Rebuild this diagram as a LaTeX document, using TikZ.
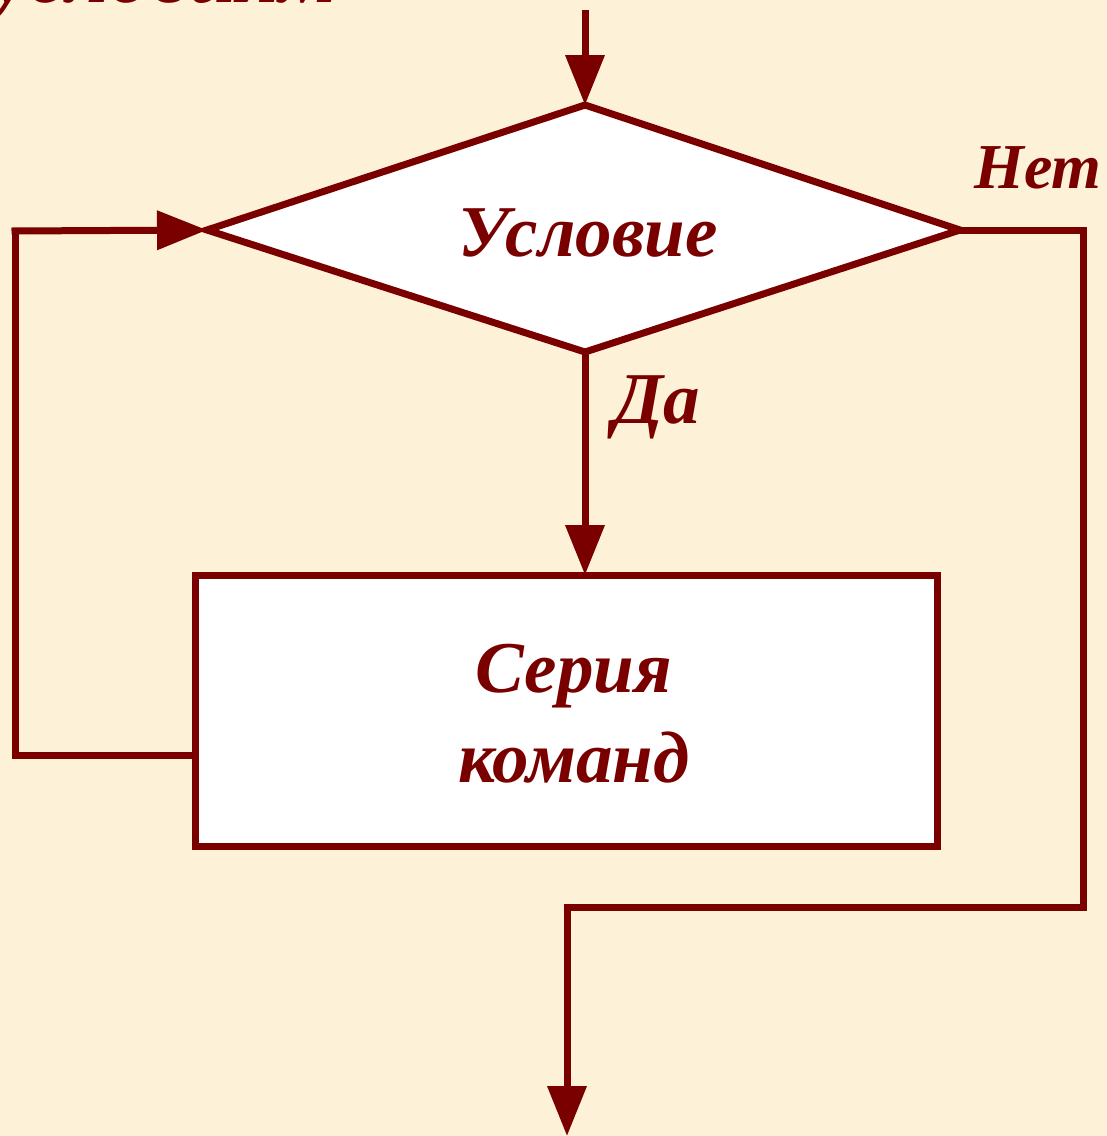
\documentclass[tikz,border=0pt]{standalone}
\usepackage{fontspec}
\setmainfont{Liberation Serif}
\usetikzlibrary{arrows.meta}
\definecolor{paper}{RGB}{253,241,216}
\definecolor{maroon}{RGB}{122,0,0}
\begin{document}
\begin{tikzpicture}[x=1pt,y=-1pt,
  flow/.style={draw=maroon,line width=7pt},
  arr/.style={flow,-{Triangle[length=50pt,width=38pt]}},
  lbl/.style={text=maroon,font=\fontsize{73}{78}\selectfont\bfseries\itshape,inner sep=0pt},
  shapeline/.style={draw=maroon,line width=7pt,fill=white,line join=miter}]
  % canvas
  \fill[paper] (0,0) rectangle (1107,1136);
  \useasboundingbox (0,0) rectangle (1107,1136);

  % heading text running off the top edge
  \begin{scope}
    \clip (0,0) rectangle (1107,1136);
    \node[lbl,anchor=base west,font=\fontsize{84}{90}\selectfont\bfseries\itshape] (head) at (-8,2) {условиям};
  \end{scope}

  % decision diamond
  \coordinate (dt) at (585,105);
  \coordinate (dl) at (207,230);
  \coordinate (dr) at (960,230);
  \coordinate (db) at (585,352);
  \draw[shapeline] (dt) -- (dr) -- (db) -- (dl) -- cycle;
  \node[lbl] (cond) at (588,233) {Условие};

  % body box
  \coordinate (bnw) at (195,575);
  \coordinate (bse) at (937,846);
  \draw[shapeline] (bnw) rectangle (bse);
  \node[lbl,align=center,font=\fontsize{73}{90}\selectfont\bfseries\itshape] (body) at (574,714) {Серия\\команд};

  % entry arrow
  \coordinate (in) at (585,10);
  \draw[arr] (in) -- (dt);

  % "yes" branch
  \coordinate (bt) at (585,575);
  \draw[arr] (db) -- (bt);
  \node[lbl] (yes) at (657,407) {Да};

  % loop back to the condition
  \coordinate (bl) at (195,755);
  \coordinate (l1) at (15,755);
  \coordinate (l2) at (15,231);
  \draw[flow] (bl) -- (l1) -- (l2);
  \draw[arr] ([xshift=-3.5pt]l2) -- (dl);

  % "no" branch to the exit
  \coordinate (r1) at (1083,230);
  \coordinate (r2) at (1083,907);
  \coordinate (r3) at (567,907);
  \coordinate (out) at (567,1136);
  \draw[flow,line join=miter] (dr) -- (r1) -- (r2) -- (r3) -- ([yshift=-3.5pt]r3);
  \draw[arr] ([yshift=-3.5pt]r3) -- (out);
  \node[lbl,font=\fontsize{64}{70}\selectfont\bfseries\itshape] (no) at (1038,168) {Нет};
\end{tikzpicture}
\end{document}
